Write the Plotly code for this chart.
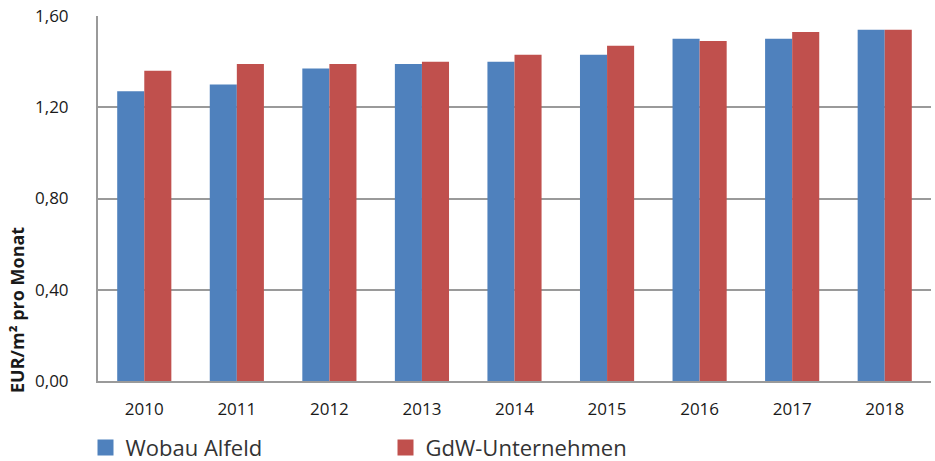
import plotly.graph_objects as go

years = ["2010", "2011", "2012", "2013", "2014", "2015", "2016", "2017", "2018"]
wobau = [1.27, 1.30, 1.37, 1.39, 1.40, 1.43, 1.50, 1.50, 1.54]
gdw = [1.36, 1.39, 1.39, 1.40, 1.43, 1.47, 1.49, 1.53, 1.54]
series_names = ["Wobau Alfeld", "GdW-Unternehmen"]
y_ticks = [0, 0.4, 0.8, 1.2, 1.6]

blue = "#4F81BD"
red = "#C0504D"
font = "Open Sans"

fig = go.Figure()
fig.add_trace(go.Bar(x=years, y=wobau, name=series_names[0], marker_color=blue,
                     marker_line_width=0, showlegend=False, legendgroup="a"))
fig.add_trace(go.Bar(x=years, y=gdw, name=series_names[1], marker_color=red,
                     marker_line_width=0, showlegend=False, legendgroup="b"))
# legend swatches
fig.add_trace(go.Scatter(x=[None], y=[None], mode="markers", name=series_names[0],
                         marker=dict(symbol="square", size=20, color=blue), legendgroup="a"))
fig.add_trace(go.Scatter(x=[None], y=[None], mode="markers", name=series_names[1],
                         marker=dict(symbol="square", size=20, color=red), legendgroup="b"))

fig.update_layout(
    width=935, height=461,
    margin=dict(l=98, r=4, t=16, b=80, autoexpand=False),
    paper_bgcolor="white", plot_bgcolor="white",
    separators=",.",
    barmode="group", bargap=0.415, bargroupgap=0,
    font=dict(family=font, color="#1a1a1a"),
    showlegend=True,
    legend=dict(orientation="h", x=-0.015, xanchor="left", y=-0.125, yanchor="top",
                font=dict(size=22, color="#333333"), itemsizing="trace",
                entrywidth=255, entrywidthmode="pixels", traceorder="normal",
                bgcolor="rgba(0,0,0,0)", itemwidth=30),
    xaxis=dict(showgrid=False, showline=True, linecolor="#9a9a9a", linewidth=2,
               ticks="", tickfont=dict(size=17, color="#1a1a1a"), ticklabelstandoff=12,
               zeroline=False),
    yaxis=dict(range=[0, 1.6], tickvals=y_ticks, tickformat=".2f",
               showgrid=True, gridcolor="#9a9a9a", gridwidth=2,
               showline=True, linecolor="#9a9a9a", linewidth=2,
               ticks="", tickfont=dict(size=17, color="#1a1a1a"), ticklabelstandoff=24,
               zeroline=False),
    annotations=[dict(text="<b>EUR/m² pro Monat</b>", textangle=-90,
                      xref="paper", yref="paper", x=-0.097, y=0.195,
                      xanchor="center", yanchor="middle", showarrow=False,
                      font=dict(size=18, color="#1a1a1a"))],
)

fig.write_html("out.html", config={"displayModeBar": False},
               post_script="document.body.style.margin='0';")
